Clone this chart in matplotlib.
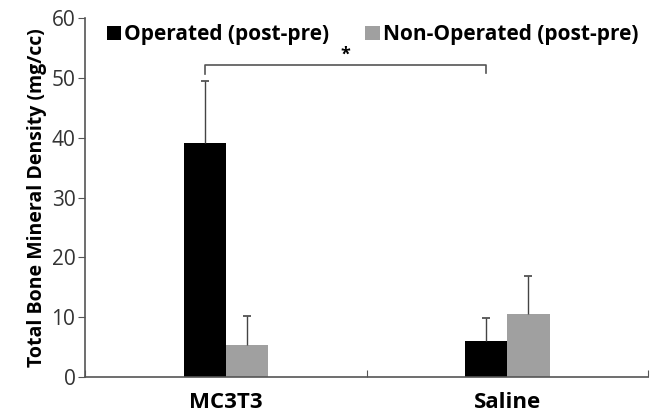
import numpy as np
import matplotlib
matplotlib.use('Agg')
import matplotlib.pyplot as plt

# data
groups = ['MC3T3', 'Saline']
operated = [39.2, 6.0]
operated_err = [10.3, 3.9]
non_operated = [5.3, 10.5]
non_operated_err = [4.9, 6.4]
series_labels = ['Operated (post-pre)', 'Non-Operated (post-pre)']
yticks = [0, 10, 20, 30, 40, 50, 60]

plt.rcParams['font.family'] = ['Open Sans', 'DejaVu Sans']

fig = plt.figure(figsize=(6.5, 4.2), dpi=100)
ax = fig.add_axes([0.131, 0.102, 0.866, 0.855])

x = np.arange(len(groups))
width = 0.15

ax.bar(x - width / 2, operated, width, color='black', label=series_labels[0])
ax.bar(x + width / 2, non_operated, width, color='#a0a0a0', label=series_labels[1])

# one-sided (upper) error bars
for xs, vals, errs in [(x - width / 2, operated, operated_err),
                       (x + width / 2, non_operated, non_operated_err)]:
    tops = np.array(vals) + np.array(errs)
    ax.vlines(xs, vals, tops, color='#444444', lw=1)
    ax.plot(xs, tops, ls='none', marker='_', ms=6, mew=1.2, color='#444444')

# significance bracket between the operated bars
x0, x1 = x[0] - width / 2, x[1] - width / 2
y_br = 52.1
ax.plot([x0, x0, x1, x1], [50.6, y_br, y_br, 50.9], color='#555555', lw=1.2)
ax.text((x0 + x1) / 2, y_br + 0.3, '*', ha='center', va='bottom', fontsize=13,
        fontweight='bold')

ax.set_xlim(-0.5, 1.5)
ax.set_ylim(0, 60)
ax.set_yticks(yticks)
ax.set_xticks([-0.5, 0.5, 1.5])
ax.set_xticklabels(['', '', ''])
ax.tick_params(axis='x', direction='in', length=5, color='#555555')
ax.tick_params(axis='y', direction='out', length=5, color='#555555',
               labelsize=15, labelcolor='#333333', pad=2)
for i, g in enumerate(groups):
    ax.text(x[i], -2.4, g, ha='center', va='top', fontsize=16, fontweight='bold')

for side in ['top', 'right']:
    ax.spines[side].set_visible(False)
for side in ['left', 'bottom']:
    ax.spines[side].set_color('#555555')
    ax.spines[side].set_linewidth(1.2)

ax.set_ylabel('Total Bone Mineral Density (mg/cc)', fontsize=14,
              fontweight='bold', labelpad=3)

ax.legend(loc='upper left', bbox_to_anchor=(0.005, 1.035), ncol=2, frameon=False,
          handlelength=0.7, handleheight=0.7, handletextpad=0.15,
          columnspacing=1.7, prop={'weight': 'bold', 'size': 15})

fig.savefig('out.png', dpi=100)
